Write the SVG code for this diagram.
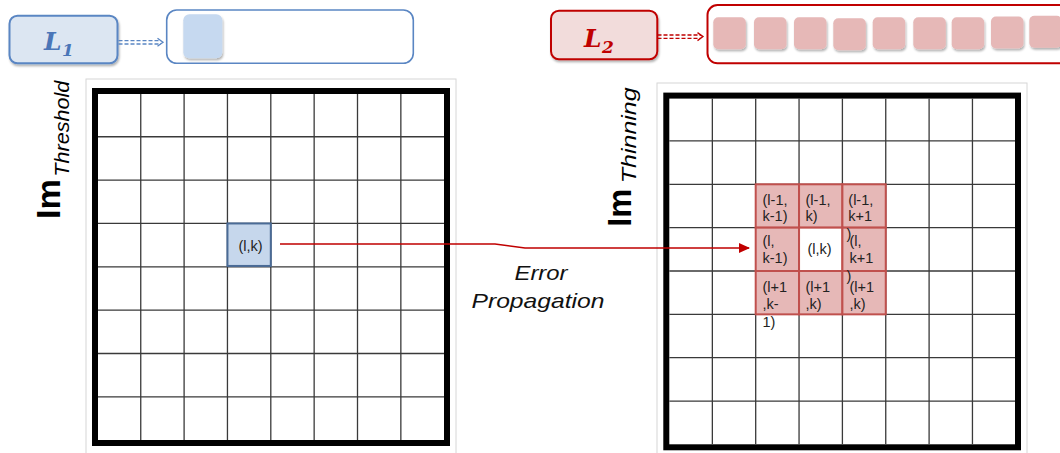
<svg xmlns="http://www.w3.org/2000/svg" width="1060" height="453" viewBox="0 0 1060 453">
<defs>
<filter id="sh" x="-20%" y="-20%" width="150%" height="160%">
<feDropShadow dx="1" dy="2" stdDeviation="1.3" flood-color="#000" flood-opacity="0.3"/>
</filter>
<marker id="redArrow" markerWidth="11" markerHeight="10" refX="10" refY="5" orient="auto" markerUnits="userSpaceOnUse">
<path d="M0,0 L11,5 L0,10 Z" fill="#c00000"/>
</marker>
<style>
.grid{fill:none;stroke:#3a3a3a;stroke-width:1.3}
.border{fill:none;stroke:#000;stroke-width:6}
.frame{fill:#fff;stroke:#d6d6d6;stroke-width:1}
.cell{font-family:"Liberation Sans",Arial,sans-serif;font-size:14.5px;fill:#222}
.rc{fill:#e6b8b7;stroke:#c0504d;stroke-width:2}
.lab{font-family:"DejaVu Serif","Liberation Serif",serif;font-weight:bold;font-style:italic}
.im{font-family:"Liberation Sans",Arial,sans-serif;font-weight:bold;font-size:33px;fill:#000}
.sub{font-family:"Liberation Sans",Arial,sans-serif;font-style:italic;font-size:20px;fill:#000}
.ep{font-family:"Liberation Sans",Arial,sans-serif;font-style:italic;font-size:21px;fill:#111}
.bsq{fill:#e6b8b7;filter:url(#sh)}
</style>
</defs>

<!-- top-left L1 -->
<g id="node-L1">
<rect x="9.5" y="15.7" width="108" height="47.6" rx="8" fill="#dce6f2" stroke="#5a86c3" stroke-width="2" filter="url(#sh)"/>
<text class="lab" x="44" y="50" font-size="25" fill="#4a76b8">L</text>
<text class="lab" x="62" y="56" font-size="17" fill="#4a76b8">1</text>
</g>
<g id="node-L1-container">
<rect x="166.7" y="10" width="246.6" height="53.3" rx="10" fill="#fff" stroke="#5a86c3" stroke-width="1.6"/>
<rect x="183.3" y="14.3" width="39" height="44" rx="6" fill="#c6d9f0" filter="url(#sh)"/>
</g>

<!-- top-right L2 -->
<g id="node-L2">
<rect x="551" y="10.7" width="106.3" height="48.6" rx="8" fill="#f2dcdb" stroke="#c00000" stroke-width="2" filter="url(#sh)"/>
<text class="lab" x="584" y="46.5" font-size="25" fill="#c00000">L</text>
<text class="lab" x="602" y="52.5" font-size="17" fill="#c00000">2</text>
</g>
<g id="node-L2-container">
<rect x="707.5" y="5" width="420" height="58.3" rx="10" fill="#fff" stroke="#c00000" stroke-width="2"/>
<rect class="bsq" x="713.3" y="17.3" width="32.5" height="32" rx="5"/>
<rect class="bsq" x="754" y="17.3" width="32.5" height="32" rx="5"/>
<rect class="bsq" x="794" y="17.3" width="32.5" height="32" rx="5"/>
<rect class="bsq" x="833.3" y="18.3" width="32.5" height="32" rx="5"/>
<rect class="bsq" x="872.7" y="17.3" width="32.5" height="32" rx="5"/>
<rect class="bsq" x="913.3" y="17.3" width="32.5" height="32" rx="5"/>
<rect class="bsq" x="951.7" y="17.3" width="32.5" height="32" rx="5"/>
<rect class="bsq" x="991" y="16.5" width="32.5" height="32" rx="5"/>
<rect class="bsq" x="1029.3" y="15.7" width="32.5" height="32" rx="5"/>
</g>

<!-- left grid -->
<g id="node-grid-threshold">
<rect class="frame" x="86" y="79" width="370" height="380"/>
<rect class="border" x="95" y="91" width="352" height="352"/>
<path class="grid" d="M140.75,94V440 M184.1,94V440 M227.45,94V440 M270.8,94V440 M314.15,94V440 M357.5,94V440 M400.85,94V440 M98,136.75H444 M98,180.1H444 M98,223.45H444 M98,266.8H444 M98,310.15H444 M98,353.5H444 M98,396.85H444"/>
<rect x="227.45" y="223.45" width="43.35" height="42.5" fill="#c6d7ec" stroke="#4a6b96" stroke-width="2"/>
<text class="cell" x="250.5" y="250.5" font-size="16" text-anchor="middle">(l,k)</text>
<text class="im" transform="translate(60,219) rotate(-90)" textLength="40" lengthAdjust="spacingAndGlyphs">Im</text>
<text class="sub" transform="translate(68.6,176.7) rotate(-90)" textLength="96" lengthAdjust="spacingAndGlyphs">Threshold</text>
</g>

<!-- right grid -->
<g id="node-grid-thinning">
<rect class="frame" x="657" y="83" width="370" height="380"/>
<rect class="border" x="666.3" y="95.6" width="351.7" height="351.7"/>
<path class="grid" d="M712.35,98.6V444.3 M755.7,98.6V444.3 M799.05,98.6V444.3 M842.4,98.6V444.3 M885.75,98.6V444.3 M929.1,98.6V444.3 M972.45,98.6V444.3 M669.3,140.95H1015 M669.3,184.3H1015 M669.3,227.65H1015 M669.3,271H1015 M669.3,314.35H1015 M669.3,357.7H1015 M669.3,401.05H1015"/>
<rect class="rc" x="755.7" y="184.3" width="43.35" height="43.35"/>
<rect class="rc" x="799.05" y="184.3" width="43.35" height="43.35"/>
<rect class="rc" x="842.4" y="184.3" width="43.35" height="43.35"/>
<rect class="rc" x="755.7" y="227.65" width="43.35" height="43.35"/>
<rect x="799.05" y="227.65" width="43.35" height="43.35" fill="#fff" stroke="#c0504d" stroke-width="2"/>
<rect class="rc" x="842.4" y="227.65" width="43.35" height="43.35"/>
<rect class="rc" x="755.7" y="271" width="43.35" height="43.35"/>
<rect class="rc" x="799.05" y="271" width="43.35" height="43.35"/>
<rect class="rc" x="842.4" y="271" width="43.35" height="43.35"/>
<text class="cell" x="762.5" y="204.5">(l-1,<tspan x="762.5" y="221">k-1)</tspan></text>
<text class="cell" x="805.5" y="204.5">(l-1,<tspan x="805.5" y="221">k)</tspan></text>
<text class="cell" x="848.3" y="204.5">(l-1,<tspan x="848.3" y="221">k+1</tspan><tspan x="846.5" y="239">)</tspan></text>
<text class="cell" x="762.5" y="246">(l,<tspan x="762.5" y="262.5">k-1)</tspan></text>
<text class="cell" x="819.5" y="253.5" font-size="16" text-anchor="middle">(l,k)</text>
<text class="cell" x="849.5" y="246">(l,<tspan x="849.5" y="262.5">k+1</tspan><tspan x="846.5" y="281">)</tspan></text>
<text class="cell" x="762.5" y="292">(l+1<tspan x="762.5" y="309">,k-</tspan><tspan x="762.5" y="326.5">1)</tspan></text>
<text class="cell" x="805.5" y="292">(l+1<tspan x="805.5" y="309">,k)</tspan></text>
<text class="cell" x="849.5" y="292">(l+1<tspan x="849.5" y="309">,k)</tspan></text>
<text class="im" transform="translate(631,226.7) rotate(-90)" textLength="38" lengthAdjust="spacingAndGlyphs">Im</text>
<text class="sub" transform="translate(636,183.3) rotate(-90)" textLength="96" lengthAdjust="spacingAndGlyphs">Thinning</text>
</g>

<!-- label -->
<g id="label-error">
<text class="ep" x="514.5" y="280" textLength="53" lengthAdjust="spacingAndGlyphs">Error</text>
<text class="ep" x="471.5" y="307.7" textLength="133" lengthAdjust="spacingAndGlyphs">Propagation</text>
</g>

<!-- connectors -->
<g id="connectors">
<path d="M280,244 H495 L525,248 H749" fill="none" stroke="#c00000" stroke-width="1.6" marker-end="url(#redArrow)"/>
<g fill="none" stroke="#5a86c3" stroke-width="1.3">
<path d="M118.5,40.7 H161 M118.5,44 H161" stroke-dasharray="4,2"/>
<path d="M157.5,38.3 L163,42.3 L157.5,46.3"/>
</g>
<g fill="none" stroke="#c00000" stroke-width="1.3">
<path d="M657.5,35 H701 M657.5,38.3 H701" stroke-dasharray="4,2"/>
<path d="M697.5,32.6 L703,36.6 L697.5,40.6"/>
</g>
</g>
</svg>
